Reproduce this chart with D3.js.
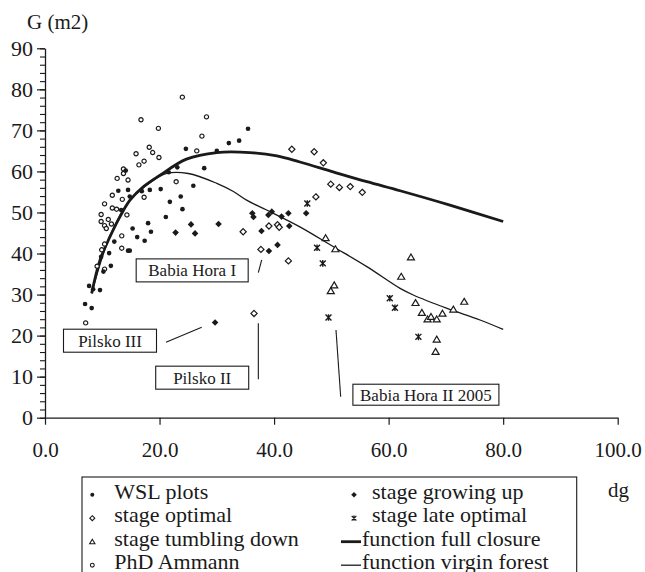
<!DOCTYPE html>
<html>
<head>
<meta charset="utf-8">
<script src="https://cdn.jsdelivr.net/npm/d3@7"></script>
<style>
  body { margin: 0; background: #fff; }
  svg { display: block; }
</style>
</head>
<body>
<div id="chart"></div>
<script>
// series: [dg, G]
const wslPlots = [
  [35.45, 70.4], [33.9, 67.5], [32.1, 66.9], [24.6, 65.5], [30.0, 65.0], [27.8, 60.8],
  [23.1, 61.0], [21.6, 59.8], [25.9, 56.5], [20.2, 55.7], [23.7, 53.9], [18.3, 55.5],
  [21.8, 52.6], [24.0, 50.8], [21.1, 48.9], [18.0, 47.4], [15.3, 46.1], [18.5, 45.3],
  [16.1, 44.0], [17.4, 43.1], [12.8, 55.3], [14.5, 55.5], [14.1, 60.2], [14.8, 53.9],
  [16.9, 55.2], [14.5, 40.7], [14.8, 40.7], [11.5, 37.0], [10.2, 35.6], [9.8, 39.2],
  [11.2, 40.1], [12.1, 42.9], [7.7, 32.1], [8.4, 31.3], [9.6, 31.1], [7.0, 27.7],
  [8.15, 26.7], [13.3, 50.6]
]
const phdAmmann = [
  [23.98, 78.1], [16.76, 72.6], [28.2, 73.3], [19.8, 70.5], [27.4, 68.6], [26.5, 65.0],
  [18.2, 65.9], [18.8, 64.6], [19.9, 63.4], [15.9, 64.3], [17.3, 62.5], [16.4, 61.6],
  [13.7, 60.6], [13.7, 59.5], [14.5, 57.9], [12.6, 58.3], [22.9, 57.5], [11.75, 54.2],
  [13.5, 53.2], [10.4, 52.1], [11.75, 51.1], [12.5, 50.8], [9.8, 49.5], [11.05, 48.3],
  [9.8, 47.8], [10.4, 46.8], [11.6, 47.2], [10.7, 46.1], [17.3, 53.7], [14.3, 49.4],
  [13.4, 44.3], [10.4, 42.3], [9.9, 40.9], [9.1, 36.9], [10.4, 36.2], [13.4, 41.3],
  [7.1, 23.1]
]
const stageGrowingUp = [
  [25.5, 47.1], [30.3, 47.2], [22.8, 45.1], [26.2, 44.9], [36.2, 49.8], [36.4, 48.9],
  [39.0, 49.4], [39.6, 50.2], [41.3, 49.0], [42.5, 49.8], [45.6, 49.8], [42.65, 46.7],
  [37.8, 45.5], [40.6, 42.1], [39.1, 40.6], [29.7, 23.2]
]
const stageOptimal = [
  [34.6, 45.3], [36.5, 25.4], [43.1, 65.4], [47.0, 64.8], [48.6, 62.1], [49.9, 56.9],
  [51.4, 56.1], [53.3, 56.3], [55.4, 54.9], [47.3, 53.8], [39.1, 46.7], [40.6, 47.0],
  [40.9, 46.4], [37.7, 41.0], [42.5, 38.2]
]
const stageLateOptimal = [
  [45.8, 52.2], [47.5, 41.4], [48.5, 37.6], [49.5, 24.4], [60.2, 29.1], [61.1, 26.8],
  [65.2, 19.7]
]
const stageTumblingDown = [
  [49.0, 43.8], [50.7, 41.1], [50.5, 32.3], [49.9, 30.9], [63.9, 39.1], [62.2, 34.4],
  [64.7, 28.0], [65.8, 25.6], [66.8, 24.0], [67.4, 24.6], [68.4, 24.0], [69.4, 25.4],
  [71.3, 26.4], [73.2, 28.3], [68.4, 19.1], [68.2, 16.1]
]
const fullClosure = [
  [8.15, 30.3], [9.6, 38.4], [11.35, 44.1], [13.1, 49.0], [14.84, 53.0], [17.2, 56.3],
  [20.1, 59.1], [24.7, 63.0], [30.0, 64.6], [35.8, 64.6], [40.5, 63.8], [44.5, 62.3],
  [50.3, 59.9], [56.2, 57.5], [62.0, 55.3], [70.7, 51.8], [80.0, 47.8]
]
const virginForest = [
  [8.15, 30.3], [11.35, 44.3], [14.8, 53.0], [18.3, 57.2], [21.25, 59.5], [25.0, 59.5],
  [30.0, 57.1], [32.9, 55.1], [35.2, 53.0], [38.7, 50.6], [44.5, 46.5], [50.3, 41.7],
  [56.2, 36.8], [62.0, 31.5], [64.3, 29.9], [70.1, 26.7], [75.96, 23.8], [80.0, 21.5]
]
const xTicks = [0, 20, 40, 60, 80, 100]
const yTicks = [0, 10, 20, 30, 40, 50, 60, 70, 80, 90]
// annotation boxes: label, box centre [dg, G], leader line [[dg, G], [dg, G]]
const annLabels = ['Babia Hora I', 'Pilsko III', 'Pilsko II', 'Babia Hora II 2005']
const annCentres = [[25.7, 35.89], [11.35, 18.76], [27.45, 9.75], [66.51, 5.6]]
const annLeaders = [
  [[37.84, 38.43], [37.25, 35.33]],
  [[21.13, 18.37], [27.36, 22.03]],
  [[37.25, 23.0], [37.25, 9.36]],
  [[50.81, 21.37], [51.63, 5.12]]
]
const legendNames = ['WSL plots', 'stage optimal', 'stage tumbling down', 'PhD Ammann',
  'stage growing up', 'stage late optimal', 'function full closure', 'function virgin forest']

const width = 645
const height = 572
const ink = '#1a1a1a'
const serif = "'Liberation Serif', 'DejaVu Serif', serif"

const svg = d3.select('#chart').append('svg')
  .attr('width', width)
  .attr('height', height)
  .style('font-family', serif)

const xScale = d3.scaleLinear().domain([0, 100]).range([45, 617.7])
const yScale = d3.scaleLinear().domain([0, 90]).range([417.7, 48.3])

// marker shapes
const diamond = r => `M0,${-r}L${r},0L0,${r}L${-r},0Z`
const triangle = r => `M0,${-r}L${r * 1.1},${r * 0.85}L${-r * 1.1},${r * 0.85}Z`
const star = r => `M0,${-r}V${r}M${-r * 0.9},${-r * 0.9}L${r * 0.9},${r * 0.9}M${-r * 0.9},${r * 0.9}L${r * 0.9},${-r * 0.9}`

// axes
const xAxis = svg.append('g')
  .attr('transform', `translate(0,${yScale(0)})`)
  .call(d3.axisBottom(xScale).tickValues(xTicks).tickFormat(d3.format('.1f'))
    .tickSize(7).tickSizeOuter(0).tickPadding(17))
  .attr('font-family', null)
xAxis.select('.domain').attr('stroke', ink).attr('stroke-width', 1.3)
xAxis.selectAll('.tick line').attr('stroke', ink).attr('stroke-width', 1.2)
xAxis.selectAll('text').style('font-size', '21px').attr('fill', ink)

const yMinor = svg.append('g')
  .attr('transform', `translate(${xScale(0)},0)`)
  .call(d3.axisLeft(yScale).tickValues(d3.range(0, 91, 2)).tickFormat('')
    .tickSize(5).tickSizeOuter(0))
yMinor.select('.domain').attr('stroke', ink).attr('stroke-width', 1.3)
yMinor.selectAll('.tick line').attr('stroke', ink).attr('stroke-width', 1.1)

const yAxis = svg.append('g')
  .attr('transform', `translate(${xScale(0)},0)`)
  .call(d3.axisLeft(yScale).tickValues(yTicks).tickSize(8).tickSizeOuter(0).tickPadding(4))
  .attr('font-family', null)
yAxis.select('.domain').remove()
yAxis.selectAll('.tick line').attr('stroke', ink).attr('stroke-width', 1.2)
yAxis.selectAll('text').style('font-size', '22px').attr('fill', ink)

svg.append('text').attr('x', 27).attr('y', 29).style('font-size', '21px').attr('fill', ink).text('G (m2)')
svg.append('text').attr('x', 608).attr('y', 497).style('font-size', '21px').attr('fill', ink).text('dg')

// function curves
const line = d3.line()
  .x(d => xScale(d[0]))
  .y(d => yScale(d[1]))
  .curve(d3.curveCatmullRom.alpha(0.5))

svg.append('path').datum(virginForest)
  .attr('d', line).attr('fill', 'none').attr('stroke', ink).attr('stroke-width', 1.3)
svg.append('path').datum(fullClosure)
  .attr('d', line).attr('fill', 'none').attr('stroke', ink).attr('stroke-width', 2.8)

// scatter series
function points (data, cls) {
  return svg.append('g').attr('class', cls).selectAll('path')
    .data(data).enter().append('path')
    .attr('transform', d => `translate(${xScale(d[0])},${yScale(d[1])})`)
}

points(phdAmmann, 'phd').attr('d', d3.symbol(d3.symbolCircle, 14))
  .attr('fill', '#fff').attr('stroke', ink).attr('stroke-width', 1.2)
points(wslPlots, 'wsl').attr('d', d3.symbol(d3.symbolCircle, 17)).attr('fill', ink)
points(stageOptimal, 'optimal').attr('d', diamond(3.1))
  .attr('fill', '#fff').attr('stroke', ink).attr('stroke-width', 1.2)
points(stageGrowingUp, 'growing').attr('d', diamond(3.3)).attr('fill', ink)
points(stageTumblingDown, 'tumbling').attr('d', triangle(3.2))
  .attr('fill', '#fff').attr('stroke', ink).attr('stroke-width', 1.2)
points(stageLateOptimal, 'late').attr('d', star(3.3))
  .attr('fill', 'none').attr('stroke', ink).attr('stroke-width', 1.4)

// annotation boxes
const annSizes = [[112, 23], [93, 23], [93, 23], [146, 21]]
annLabels.forEach((label, i) => {
  const cx = xScale(annCentres[i][0])
  const cy = yScale(annCentres[i][1])
  const [w, h] = annSizes[i]
  svg.append('line')
    .attr('x1', xScale(annLeaders[i][0][0])).attr('y1', yScale(annLeaders[i][0][1]))
    .attr('x2', xScale(annLeaders[i][1][0])).attr('y2', yScale(annLeaders[i][1][1]))
    .attr('stroke', ink).attr('stroke-width', 1.1)
  svg.append('rect')
    .attr('x', cx - w / 2).attr('y', cy - h / 2).attr('width', w).attr('height', h)
    .attr('fill', '#fff').attr('stroke', ink).attr('stroke-width', 1.1)
  svg.append('text')
    .attr('x', cx).attr('y', cy + 6)
    .attr('text-anchor', 'middle')
    .attr('fill', ink)
    .style('font-size', '17px')
    .text(label)
})

// legend
const legend = svg.append('g')
legend.append('rect')
  .attr('x', 82).attr('y', 477).attr('width', 494.7).attr('height', 110)
  .attr('fill', '#fff').attr('stroke', ink).attr('stroke-width', 1.1)

const rowY = [494.7, 518.2, 541.7, 565.2]
const legendMarks = [
  g => g.append('circle').attr('r', 2).attr('fill', ink),
  g => g.append('path').attr('d', diamond(2.5)).attr('fill', '#fff').attr('stroke', ink).attr('stroke-width', 1.1),
  g => g.append('path').attr('d', triangle(2.4)).attr('fill', '#fff').attr('stroke', ink).attr('stroke-width', 1.1),
  g => g.append('circle').attr('r', 1.9).attr('fill', '#fff').attr('stroke', ink).attr('stroke-width', 1.1),
  g => g.append('path').attr('d', diamond(2.8)).attr('fill', ink),
  g => g.append('path').attr('d', star(2.6)).attr('fill', 'none').attr('stroke', ink).attr('stroke-width', 1.2),
  g => g.append('line').attr('x1', -13).attr('x2', 7).attr('stroke', ink).attr('stroke-width', 2.8),
  g => g.append('line').attr('x1', -13).attr('x2', 7).attr('stroke', ink).attr('stroke-width', 1.3)
]

legendNames.forEach((name, i) => {
  const col = i < 4 ? 0 : 1
  const row = i % 4
  const mx = col === 0 ? 92.3 : 354
  const g = legend.append('g').attr('transform', `translate(${mx},${rowY[row]})`)
  legendMarks[i](g)
  const tx = col === 0 ? 114.3 : (i >= 6 ? 362 : 372)
  legend.append('text')
    .attr('x', tx).attr('y', rowY[row] + 4)
    .attr('fill', ink)
    .style('font-size', '22px')
    .text(name)
})
</script>
</body>
</html>
